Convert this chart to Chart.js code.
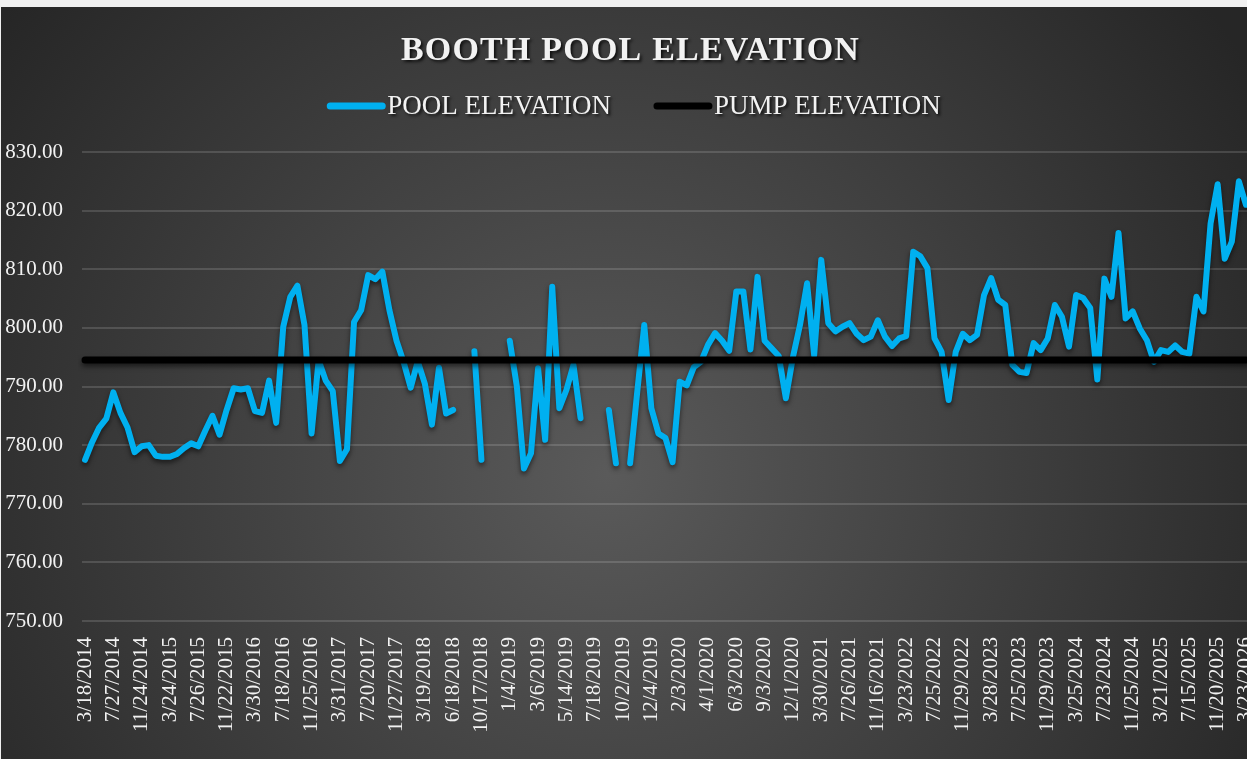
<!DOCTYPE html>
<html>
<head>
<meta charset="utf-8">
<title>Booth Pool Elevation</title>
<script src="https://cdn.jsdelivr.net/npm/chart.js@4.4.1/dist/chart.umd.min.js"></script>
<style>
  html, body { margin: 0; padding: 0; background: #f0f0f0; overflow: hidden; }
  #chart { position: absolute; left: 1px; top: 7px; }
</style>
</head>
<body>
<canvas id="chart" width="1265" height="752"></canvas>
<script>
const TITLE = 'BOOTH POOL ELEVATION';

// every 4th reading carries a date label on the axis
const tickLabels = [
  '3/18/2014', '7/27/2014', '11/24/2014', '3/24/2015', '7/26/2015', '11/22/2015',
  '3/30/2016', '7/18/2016', '11/25/2016', '3/31/2017', '7/20/2017', '11/27/2017',
  '3/19/2018', '6/18/2018', '10/17/2018', '1/4/2019', '3/6/2019', '5/14/2019',
  '7/18/2019', '10/2/2019', '12/4/2019', '2/3/2020', '4/1/2020', '6/3/2020',
  '9/3/2020', '12/1/2020', '3/30/2021', '7/26/2021', '11/16/2021', '3/23/2022',
  '7/25/2022', '11/29/2022', '3/28/2023', '7/25/2023', '11/29/2023', '3/25/2024',
  '7/23/2024', '11/25/2024', '3/21/2025', '7/15/2025', '11/20/2025', '3/23/2026'
];

// pool readings (null = no reading, line breaks there)
const poolElevation = [
  777.5, 780.5, 783.0, 784.5, 789.0, 785.5, 783.0, 778.8, 779.8, 780.0,
  778.2, 778.0, 778.0, 778.5, 779.5, 780.3, 779.8, 782.5, 785.0, 781.8,
  786.0, 789.7, 789.5, 789.7, 785.8, 785.5, 791.0, 783.8, 800.2, 805.3,
  807.2, 800.5, 782.0, 794.5, 791.0, 789.2, 777.3, 779.3, 801.0, 803.0,
  809.0, 808.3, 809.6, 803.0, 797.8, 794.2, 789.8, 794.3, 790.5, 783.5,
  793.2, 785.4, 786.0, null, null, 796.0, 777.5, null, null, null,
  797.8, 790.0, 776.0, 778.6, 793.1, 780.9, 807.0, 786.3, 789.4, 793.7,
  784.6, null, null, null, 786.0, 776.9, null, 776.9, 789.0, 800.5,
  786.3, 782.0, 781.2, 777.1, 790.8, 790.2, 793.3, 794.2, 797.1, 799.1,
  797.8, 796.1, 806.2, 806.2, 796.3, 808.7, 797.8, 796.5, 795.2, 788.0,
  795.0, 800.5, 807.6, 795.3, 811.6, 800.8, 799.4, 800.2, 800.8, 799.0,
  797.9, 798.5, 801.3, 798.5, 796.9, 798.2, 798.6, 813.0, 812.2, 810.2,
  798.2, 795.9, 787.7, 795.9, 799.0, 797.9, 798.8, 805.6, 808.5, 804.8,
  803.9, 793.7, 792.5, 792.3, 797.4, 796.2, 798.2, 803.9, 801.9, 796.8,
  805.6, 805.1, 803.4, 791.2, 808.4, 805.3, 816.2, 801.6, 802.8, 799.9,
  797.9, 794.2, 796.2, 795.9, 797.0, 795.9, 795.6, 805.3, 802.8, 817.8,
  824.5, 811.8, 814.7, 825.0, 821.0
];

const PUMP_ELEVATION = 794.5;

const Y_MIN = 750;
const Y_MAX = 830;
const Y_STEP = 10;

const BLUE = '#00b0f0';
const TEXT = '#f2f2f2';
const FONT = "'Liberation Serif', 'Times New Roman', serif";

const categories = poolElevation.map((_, i) => (i % 4 === 0 ? tickLabels[i / 4] : ''));
const pumpLine = poolElevation.map(() => PUMP_ELEVATION);

// gradient backdrop, line shadows, title and legend
const decor = {
  id: 'decor',
  beforeDraw(chart) {
    const { ctx, width, height } = chart;
    const g = ctx.createRadialGradient(width * 0.48, height * 0.62, 0, width * 0.48, height * 0.62, 760);
    g.addColorStop(0, '#5a5a5a');
    g.addColorStop(1, '#262626');
    ctx.save();
    ctx.fillStyle = g;
    ctx.fillRect(0, 0, width, height);
    ctx.restore();
  },
  beforeDatasetsDraw(chart) {
    const ctx = chart.ctx;
    ctx.save();
    ctx.shadowColor = 'rgba(0, 0, 0, 0.55)';
    ctx.shadowBlur = 5;
    ctx.shadowOffsetY = 3;
  },
  afterDatasetsDraw(chart) {
    chart.ctx.restore();
  },
  afterDraw(chart) {
    const ctx = chart.ctx;
    const cx = chart.width / 2;
    ctx.save();
    ctx.fillStyle = TEXT;
    ctx.shadowColor = 'rgba(0, 0, 0, 0.75)';
    ctx.shadowOffsetX = 2;
    ctx.shadowOffsetY = 2;
    ctx.shadowBlur = 3;

    // title
    ctx.font = 'bold 34px ' + FONT;
    ctx.letterSpacing = '1.2px';
    ctx.textAlign = 'center';
    ctx.textBaseline = 'alphabetic';
    ctx.fillText(TITLE, cx - 3, 53);

    // legend
    ctx.letterSpacing = '0px';
    ctx.font = '27px ' + FONT;
    ctx.textAlign = 'left';
    ctx.textBaseline = 'middle';
    const markLen = 52, gap = 5, itemGap = 46, y = 99;
    const items = chart.data.datasets.map(ds => ({
      text: ds.label, color: ds.borderColor, w: ctx.measureText(ds.label).width
    }));
    const total = items.reduce((s, it) => s + markLen + gap + it.w, 0) + itemGap * (items.length - 1);
    let x = cx + 2 - total / 2;
    items.forEach(it => {
      ctx.save();
      ctx.shadowColor = 'transparent';
      ctx.strokeStyle = it.color;
      ctx.lineWidth = 7;
      ctx.lineCap = 'round';
      ctx.beginPath();
      ctx.moveTo(x, y);
      ctx.lineTo(x + markLen, y);
      ctx.stroke();
      ctx.restore();
      ctx.fillText(it.text, x + markLen + gap, y + 1);
      x += markLen + gap + it.w + itemGap;
    });
    ctx.restore();
  }
};

const ctx = document.getElementById('chart').getContext('2d');

new Chart(ctx, {
  type: 'line',
  data: {
    labels: categories,
    datasets: [
      {
        label: 'POOL ELEVATION',
        data: poolElevation,
        borderColor: BLUE,
        backgroundColor: BLUE,
        borderWidth: 6,
        borderCapStyle: 'round',
        borderJoinStyle: 'round',
        pointRadius: 0,
        tension: 0,
        spanGaps: false,
        order: 2,
      },
      {
        label: 'PUMP ELEVATION',
        data: pumpLine,
        borderColor: '#000000',
        backgroundColor: '#000000',
        borderWidth: 7,
        borderCapStyle: 'round',
        pointRadius: 0,
        tension: 0,
        order: 1, // drawn over the pool line
      },
    ],
  },
  options: {
    responsive: false,
    animation: false,
    devicePixelRatio: 1,
    layout: {
      padding: { top: 145, left: 0, right: 16.5, bottom: 0 },
    },
    plugins: {
      legend: { display: false },
      title: { display: false },
      tooltip: { enabled: false },
    },
    scales: {
      x: {
        type: 'category',
        offset: true,
        grid: { display: false },
        border: { display: false },
        ticks: {
          autoSkip: false,
          minRotation: 90,
          maxRotation: 90,
          padding: 8,
          color: TEXT,
          font: { family: FONT, size: 21 },
        },
        afterFit: (scale) => {
          scale.height = 138;
          // last label may run past the edge, like the original
          scale.paddingLeft = 0;
          scale.paddingRight = 0;
        },
      },
      y: {
        min: Y_MIN,
        max: Y_MAX,
        grid: { color: 'rgba(255, 255, 255, 0.14)', lineWidth: 2, drawTicks: false },
        border: { display: false },
        ticks: {
          stepSize: Y_STEP,
          padding: 18.5,
          color: TEXT,
          font: { family: FONT, size: 21 },
          callback: (v) => Number(v).toFixed(2),
        },
        afterFit: (scale) => { scale.width = 80.5; },
      },
    },
  },
  plugins: [decor],
});
</script>
</body>
</html>
